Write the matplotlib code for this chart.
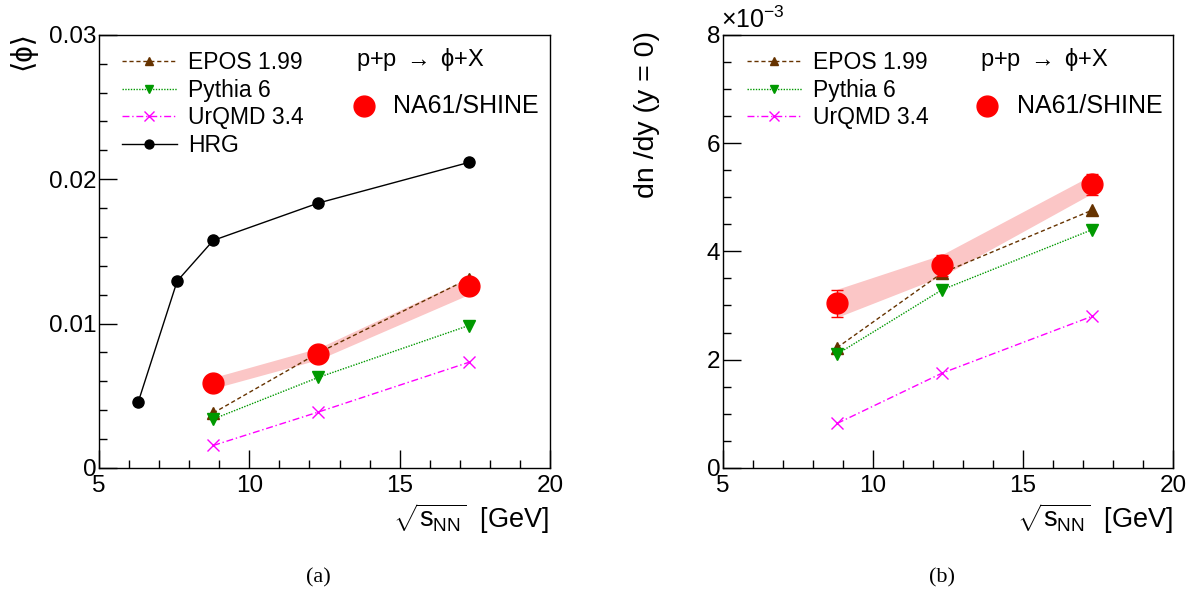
import numpy as np
import matplotlib
matplotlib.use("Agg")
import matplotlib.pyplot as plt
from matplotlib.ticker import MultipleLocator, FuncFormatter

plt.rcParams['font.family'] = ['Liberation Sans', 'DejaVu Sans']
plt.rcParams['mathtext.fontset'] = 'custom'
plt.rcParams['mathtext.rm'] = 'Liberation Sans'
plt.rcParams['mathtext.it'] = 'Liberation Sans'

# energies [GeV]
e_hrg = [6.3, 7.6, 8.8, 12.3, 17.3]
e_na61 = [8.8, 12.3, 17.3]

# (a) mean multiplicity <phi>
hrg = [0.00453, 0.01294, 0.01576, 0.01835, 0.02116]
na61_mult = [0.00588, 0.0079, 0.01259]
na61_mult_sys = [0.00038, 0.00040, 0.00058]
epos_mult = [0.0038, 0.00797, 0.0131]
pythia_mult = [0.00338, 0.00627, 0.00986]
urqmd_mult = [0.00155, 0.00387, 0.00731]

# (b) dn/dy at y=0, in units of 1e-3
na61_dndy = [3.04, 3.74, 5.24]
na61_dndy_stat = [0.25, 0.20, 0.19]
na61_dndy_sys = [0.26, 0.20, 0.17]
epos_dndy = [2.22, 3.60, 4.76]
pythia_dndy = [2.10, 3.29, 4.40]
urqmd_dndy = [0.82, 1.75, 2.80]

c_epos = '#663300'
c_pythia = '#009900'
c_urqmd = '#ff00ff'
c_band = '#fbc6c6'

fig = plt.figure(figsize=(12, 5.96), dpi=100)
ax1 = fig.add_axes([0.0825, 0.215, 0.3758, 0.7265])
ax2 = fig.add_axes([0.6025, 0.215, 0.375, 0.7265])


def style(ax, ymax, ymaj, ymin):
    ax.set_xlim(5, 20)
    ax.set_ylim(0, ymax)
    ax.xaxis.set_major_locator(MultipleLocator(5))
    ax.xaxis.set_minor_locator(MultipleLocator(1))
    ax.yaxis.set_major_locator(MultipleLocator(ymaj))
    ax.yaxis.set_minor_locator(MultipleLocator(ymin))
    ax.tick_params(which='both', direction='in', top=False, right=False,
                   labelsize=17.5, width=1)
    ax.tick_params(which='major', length=13)
    ax.tick_params(which='minor', length=6)
    ax.tick_params(axis='y', pad=2)
    ax.tick_params(axis='x', pad=5)
    for s in ax.spines.values():
        s.set_linewidth(1)


def models(ax, ep, py, ur):
    ax.plot(e_na61, ep, color=c_epos, ls=(0, (3, 2)), lw=1, marker='^',
            ms=8, mec=c_epos, mfc=c_epos, label='EPOS 1.99', zorder=3)
    ax.plot(e_na61, py, color=c_pythia, ls=(0, (1, 1)), lw=1, marker='v',
            ms=8, mec=c_pythia, mfc=c_pythia, label='Pythia 6', zorder=3)
    ax.plot(e_na61, ur, color=c_urqmd, ls=(0, (5, 2, 1, 2)), lw=1, marker='x',
            ms=9, mew=1, label='UrQMD 3.4', zorder=3)


# ---- panel (a)
style(ax1, 0.03, 0.01, 0.002)
ax1.yaxis.set_major_formatter(FuncFormatter(
    lambda v, p: '0' if v == 0 else '%.2f' % v))
m = np.array(na61_mult)
s = np.array(na61_mult_sys)
ax1.fill_between(e_na61, m - s, m + s, color=c_band, lw=0, zorder=1)
models(ax1, epos_mult, pythia_mult, urqmd_mult)
ax1.plot(e_hrg, hrg, color='black', lw=1, marker='o', ms=8, label='HRG',
         zorder=3)
ax1.plot(e_na61, na61_mult, 'o', color='red', ms=15, zorder=4)

# ---- panel (b)
style(ax2, 8, 2, 0.5)
d = np.array(na61_dndy)
s2 = np.array(na61_dndy_sys)
ax2.fill_between(e_na61, d - s2, d + s2, color=c_band, lw=0, zorder=1)
models(ax2, epos_dndy, pythia_dndy, urqmd_dndy)
ax2.errorbar(e_na61, na61_dndy, yerr=na61_dndy_stat, fmt='o', color='red',
             ms=15, capsize=4, elinewidth=1, capthick=1, zorder=4)

for ax, x0 in ((ax1, 0.051), (ax2, 0.053)):
    ax.legend(loc='upper left', bbox_to_anchor=(x0, 0.962), frameon=False,
              fontsize=16.5, handlelength=2.4, handletextpad=0.5,
              labelspacing=0.2, borderpad=0, borderaxespad=0,
              markerscale=0.8)
    ax.text(0.57, 0.942, 'p+p $\\rightarrow$ ϕ+X', transform=ax.transAxes,
            fontsize=17, va='center', ha='left',
            family=['Liberation Sans', 'DejaVu Sans'])
    ax.plot([0.587], [0.835], 'o', color='red', ms=15,
            transform=ax.transAxes, clip_on=False)
    ax.text(0.653, 0.835, 'NA61/SHINE', transform=ax.transAxes, fontsize=18,
            va='center', ha='left')

# axis titles
fig.text(22 / 1200, 1 - 50 / 596, '⟨ϕ⟩', rotation=90, fontsize=21,
         ha='center', va='center')
fig.text(647 / 1200, 1 - 31 / 596, 'dn /dy (y = 0)', rotation=90,
         fontsize=20.5, ha='center', va='top')
fig.text(721 / 1200, 1 - 20 / 596, r'$\times10^{-3}$', fontsize=18,
         ha='left', va='center')
fig.text(549 / 1200, 1 - 519 / 596, r'$\sqrt{s_{\rm NN}}$  [GeV]',
         fontsize=19.5, ha='right', va='center')
fig.text(1173 / 1200, 1 - 519 / 596, r'$\sqrt{s_{\rm NN}}$  [GeV]',
         fontsize=19.5, ha='right', va='center')
fig.text(318 / 1200, 1 - 578 / 596, '(a)', family='Liberation Serif',
         fontsize=16, ha='center', va='center')
fig.text(942 / 1200, 1 - 578 / 596, '(b)', family='Liberation Serif',
         fontsize=16, ha='center', va='center')

fig.savefig('out.png', dpi=100)
